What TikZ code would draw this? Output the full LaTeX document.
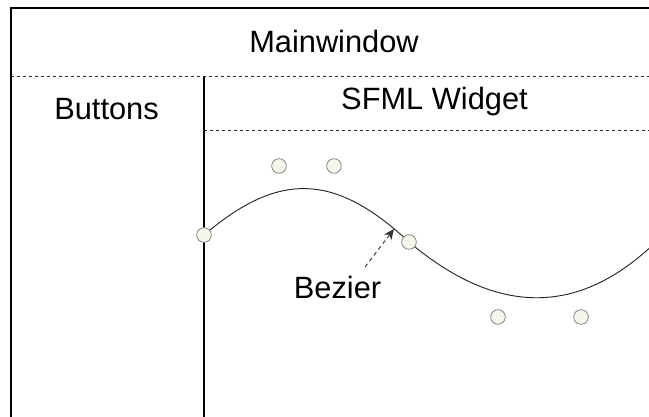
\documentclass[tikz,border=0pt]{standalone}
\usepackage{fontspec}
\setmainfont{Liberation Sans}
\usetikzlibrary{arrows.meta}
\definecolor{cream}{HTML}{F6F6EC}
\begin{document}
\begin{tikzpicture}[x=0.75pt,y=-0.75pt,
  lbl/.style={font=\fontsize{23.1}{27}\selectfont, inner sep=0pt, anchor=base},
  frame/.style={line width=0.8pt, draw=black},
  sep/.style={line width=0.75pt, draw=black!85, dash pattern=on 2.4pt off 2.1pt},
  curve/.style={line width=0.7pt, draw=black!85},
  pt/.style={circle, draw=black!50, line width=0.6pt, fill=cream, minimum size=11pt, inner sep=0pt},
  hint/.style={line width=0.7pt, draw=black!80, dash pattern=on 3pt off 2.5pt, -{Stealth[length=8pt,width=7pt]}}]
\useasboundingbox (0,0) rectangle (649,417);
% frame
\coordinate (tl) at (11,8);
\coordinate (tr) at (649,8);
\coordinate (bl) at (11,417);
\draw[frame] (tr) -- (tl) -- (bl);
\coordinate (d1l) at (11,77);
\coordinate (d1r) at (649,77);
\draw[sep] (d1l) -- (d1r);
\coordinate (vt) at (204,77);
\coordinate (vb) at (204,417);
\draw[frame] (vt) -- (vb);
\coordinate (d2l) at (204,131);
\coordinate (d2r) at (649,131);
\draw[sep] (d2l) -- (d2r);
% labels
\node[lbl] (main) at (334,53) {Mainwindow};
\node[lbl] (buttons) at (106.5,120) {Buttons};
\node[lbl] (sfml) at (434.5,110) {SFML Widget};
\node[lbl] (bez) at (337.5,298) {Bezier};
% curve
\coordinate (q0) at (204,235);
\coordinate (k1) at (278,172);
\coordinate (k2) at (334,172);
\coordinate (q1) at (409,242);
\coordinate (k3) at (498,317);
\coordinate (k4) at (581,317);
\coordinate (q2) at (660,238);
\begin{scope}
\clip (0,0) rectangle (649,417);
\draw[curve] (q0) .. controls (k1) and (k2) .. (q1) .. controls (k3) and (k4) .. (q2);
\end{scope}
% hint arrow
\coordinate (atail) at (365,267);
\coordinate (ahead) at (394,229);
\draw[hint] (atail) -- (ahead);
% points
\node[pt] (p0) at (q0) {};
\node[pt] (p1) at (q1) {};
\node[pt] (c1) at (279,166) {};
\node[pt] (c2) at (334,166) {};
\node[pt] (c3) at (498,317) {};
\node[pt] (c4) at (581,317) {};
\end{tikzpicture}
\end{document}
